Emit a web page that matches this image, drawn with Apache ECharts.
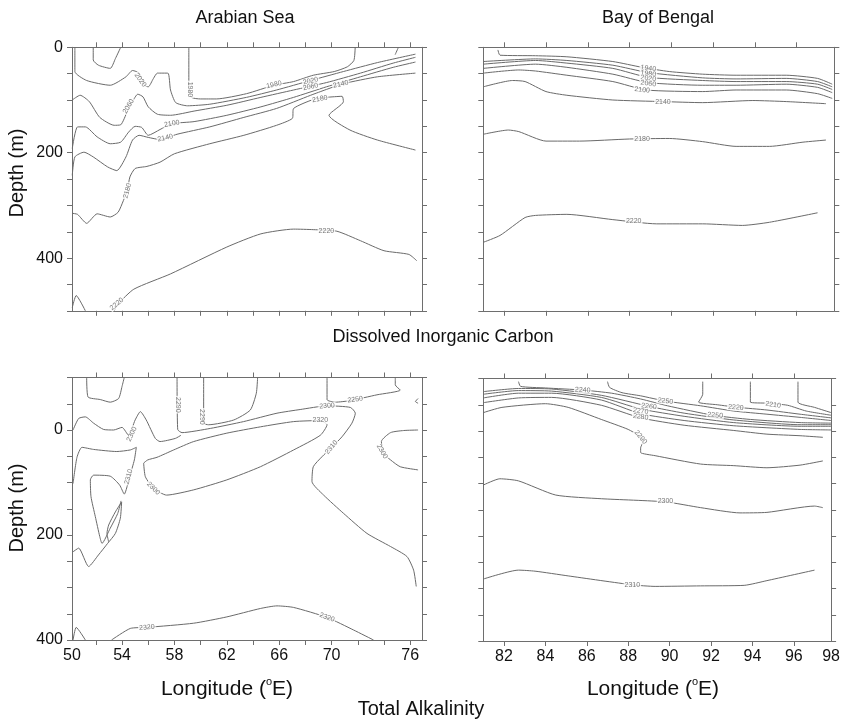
<!DOCTYPE html>
<html>
<head>
<meta charset="utf-8">
<script src="https://cdn.jsdelivr.net/npm/echarts@6/dist/echarts.min.js"></script>
<style>
  html, body { margin: 0; padding: 0; background: #fff; }
  #chart { width: 843px; height: 725px; }
</style>
</head>
<body>
<div id="chart"></div>
<script>
// ---- contour lines, points are [longitude (E), depth (m)] ----

// Arabian Sea, dissolved inorganic carbon
const dicArabTopLoop = [[51.8,0],[51.8,24],[52.2,34],[53.1,40],[53.5,21],[53.9,0]];
const dicArab1980 = [[59.1,0],[59.1,75],[59.3,95],[60.0,98],[61.2,98],[63.5,88],[65.6,72],[67.1,65],[68.6,53],[70.2,46],[71.2,37],[71.7,25],[71.8,0]];
const dicArabCornerTop = [[75.1,0],[74.85,14]];
const dicArab2020 = [[50.4,0],[50.4,46],[51.3,63],[53.1,72],[54.3,56],[54.8,44],[55.3,49],[55.7,72],[56.0,75],[56.4,59],[56.7,49],[57.5,49],[57.7,81],[58.1,105],[59.0,111],[60.7,108],[63.5,95],[65.8,81],[68.4,63],[70.9,46],[73.5,29],[76.4,13]];
const dicArab2060 = [[50.2,100],[50.8,91],[51.5,103],[52.3,133],[53.4,148],[53.9,147],[54.4,122],[54.8,103],[55.2,89],[55.6,94],[56.0,113],[56.7,127],[57.7,129],[59.5,121],[62.0,110],[64.6,95],[67.1,81],[69.6,67],[72.2,49],[74.7,30],[76.4,19]];
const dicArab2100 = [[50.2,192],[50.6,151],[51.2,151],[52.1,170],[53.1,183],[53.9,180],[54.5,161],[55.0,150],[55.5,152],[56.0,167],[56.9,156],[57.8,145],[59.5,141],[62.0,129],[64.6,113],[67.1,95],[69.6,75],[72.2,56],[74.7,38],[76.4,28]];
const dicArab2140 = [[50.2,243],[50.4,208],[51.1,199],[51.8,208],[52.9,227],[53.6,234],[54.3,208],[54.8,176],[55.3,167],[56.0,171],[56.9,175],[58.2,165],[60.7,151],[63.3,133],[65.8,116],[68.4,91],[69.6,80],[70.9,69],[73.5,56],[76.4,49]];
const dicArab2180 = [[50.2,315],[50.6,317],[51.3,334],[52.1,316],[53.1,322],[53.7,313],[54.1,291],[54.4,272],[54.6,246],[55.0,230],[55.9,226],[56.9,218],[58.0,202],[60.7,183],[63.3,167],[65.8,148],[67.0,135],[67.1,116],[68.6,99],[69.6,95],[70.8,93],[70.9,103],[69.8,129],[71.4,157],[73.5,176],[76.4,195]];
const dicArab2220 = [[53.4,500],[53.7,487],[54.9,459],[57.7,430],[62.0,379],[64.6,354],[67.1,345],[68.6,346],[70.4,349],[72.2,367],[74.0,386],[75.9,393],[76.5,405]];
const dicArabCorner = [[50.2,494],[50.5,471],[51.2,500]];
const dicArabLabels = [[55.4,62,'2020'],[54.5,112,'2060'],[59.2,80,'1980'],[65.6,71,'1980'],[68.4,64,'2020'],[68.4,75,'2060'],[70.7,70,'2140'],[57.8,145,'2100'],[57.3,172,'2140'],[54.4,272,'2180'],[69.1,98,'2180'],[69.6,348,'2220'],[53.6,487,'2220']];
const dicArabAngles = [-55, 60, -90, 12, 12, 12, 12, 10, 12, 75, 10, 0, 40];

// Bay of Bengal, dissolved inorganic carbon
const dicBay1940 = [[81.7,5],[81.8,15],[83.5,16],[85.0,18],[87.2,27],[88.6,38],[89.9,46],[91.5,51],[93.1,53],[95.5,53],[97.0,59],[97.7,70]];
const dicBay1980 = [[81.0,27],[83.5,22],[85.0,25],[87.2,34],[88.9,48],[91.5,58],[93.1,60],[95.5,59],[97.0,65],[97.7,75]];
const dicBay2020 = [[81.0,32],[83.5,25],[85.0,30],[87.2,40],[88.9,57],[91.5,63],[93.1,65],[95.5,65],[97.0,70],[97.7,80]];
const dicBay2060 = [[81.0,40],[83.5,32],[85.0,38],[87.2,51],[88.9,67],[91.5,72],[93.1,72],[95.5,70],[97.0,76],[97.7,86]];
const dicBay2100 = [[81.0,49],[82.7,43],[83.5,45],[85.0,53],[87.2,65],[88.8,81],[91.5,84],[93.1,81],[95.5,81],[97.0,88],[97.7,97]];
const dicBay2140 = [[81.0,75],[82.4,63],[83.0,65],[84.0,84],[85.0,91],[87.2,100],[89.6,103],[91.5,105],[93.9,101],[95.5,103],[97.4,107]];
const dicBay2180 = [[81.0,165],[82.2,157],[82.7,160],[84.0,178],[85.6,178],[88.0,174],[89.9,173],[91.5,179],[93.1,188],[94.7,188],[96.3,180],[97.4,176]];
const dicBay2220 = [[81.0,370],[81.8,357],[83.0,323],[83.5,319],[85.0,317],[87.2,327],[89.3,335],[91.5,335],[93.4,338],[94.7,332],[97.0,314]];
const dicBayLabels = [[88.9,40,'1940'],[88.9,50,'1980'],[88.9,59,'2020'],[88.9,69,'2060'],[88.6,81,'2100'],[89.6,103,'2140'],[88.6,174,'2180'],[88.2,330,'2220']];
const dicBayAngles = [-8, -8, -8, -8, -6, 0, 0, 0];

// Arabian Sea, total alkalinity
const taArabTopLoop = [[51.3,-100],[51.4,-63],[52.34,-58],[53.1,-53],[53.74,-60],[54.0,-83],[54.17,-100]];
const taArabLeft = [[50.26,0],[50.69,-22],[51.2,-25],[51.83,-13],[52.6,-1],[53.36,0],[54.0,-5],[54.5,10],[55.0,-19],[55.4,-35],[55.85,-19],[56.54,16],[56.9,22],[58.07,16],[58.5,10]];
const taArabColumn = [[58.2,-100],[58.25,-1],[58.58,5],[60.74,-3],[63.28,-16],[65.83,-32],[67.6,-39],[69.65,-46],[71.43,-43],[71.81,-32],[71.55,-13],[70.79,13],[70.0,33],[69.26,51],[68.6,70],[68.5,98],[69.39,124],[70.92,159],[72.7,197],[74.5,222],[75.75,241],[76.26,267],[76.46,298]];
const taArabU = [[60.23,-100],[60.23,-13],[60.61,-10],[62.52,-19],[63.79,-38],[64.25,-70],[64.35,-100]];
const taArabEast = [[69.65,-100],[69.65,-58],[70.28,-53],[71.43,-56],[73.46,-67],[75.24,-76],[74.86,-86],[74.86,-100]];
const taArabTongue = [[55.65,63],[55.78,89],[56.4,111],[57.4,124],[59.47,114],[62.0,95],[64.56,70],[67.1,38],[69.14,10],[69.65,-10],[69.14,-18],[67.1,-16],[64.56,-6],[62.0,6],[59.47,22],[57.94,38],[56.67,52],[55.96,57],[55.65,63]];
const taArabWest = [[50.26,102],[50.56,52],[50.94,33],[51.83,37],[53.6,41],[54.63,38],[55.09,33],[54.94,57],[54.58,89],[54.17,122],[53.82,105],[53.1,88],[51.83,86],[51.58,95],[51.63,127],[51.96,165],[52.3,203],[52.47,216],[53.1,187],[53.67,159],[53.92,135]];
const taArabInner = [[50.26,232],[50.69,225],[51.45,260],[52.2,238],[52.9,216],[53.49,197],[53.87,168],[53.97,137],[53.49,156],[52.98,181],[52.85,197],[52.98,213]];
const taArab2320 = [[53.2,400],[54.63,378],[55.9,376],[59.47,368],[62.0,356],[64.56,340],[65.83,335],[67.1,338],[69.65,357],[71.68,381],[73.2,400]];
const taArabCorner = [[50.26,400],[50.5,376],[51.2,400]];
const taArabRight = [[76.6,0],[75.5,1],[74.5,5],[73.8,22],[73.95,44],[74.5,57],[75.24,70],[76.6,76]];
const taArabHook = [[76.6,-60],[76.4,-54],[76.6,-51]];
const taArabLabels = [[58.3,-48,'2290'],[60.1,-25,'2290'],[71.8,-58,'2250'],[69.65,-46,'2300'],[69.14,-18,'2320'],[54.75,8,'2300'],[54.5,89,'2310'],[56.4,111,'2300'],[70.0,33,'2310'],[73.85,41,'2300'],[55.9,376,'2320'],[69.65,357,'2320']];
const taArabAngles = [-90, -90, 8, 5, 0, 65, 75, -45, 50, -60, 5, -20];

// Bay of Bengal, total alkalinity
const taBay2210a = [[96.2,-94],[96.2,-55],[97.0,-45],[97.8,-35]];
const taBay2210b = [[93.9,-94],[93.9,-55],[94.7,-53],[95.7,-49],[96.6,-38],[97.8,-30]];
const taBay2220 = [[91.6,-94],[91.6,-70],[91.4,-55],[92.3,-50],[93.3,-45],[94.7,-40],[96.3,-32],[97.8,-25]];
const taBay2250 = [[87.0,-94],[87.1,-83],[87.7,-73],[88.6,-67],[89.8,-57],[91.5,-48],[93.1,-38],[94.7,-32],[96.3,-26],[97.8,-20]];
const taBay2240 = [[82.7,-94],[82.8,-85],[84.0,-82],[85.8,-78],[87.2,-72],[88.6,-61],[89.9,-48],[92.1,-30],[93.9,-22],[96.3,-16],[97.8,-15]];
const taBay2260 = [[81.0,-75],[82.7,-81],[84.3,-80],[86.7,-68],[89.0,-47],[90.7,-34],[93.1,-21],[96.3,-12],[97.8,-12]];
const taBay2270 = [[81.0,-70],[82.7,-77],[84.3,-76],[86.7,-64],[88.6,-42],[90.7,-28],[93.1,-16],[96.3,-9],[97.8,-9]];
const taBay2275 = [[81.0,-63],[82.7,-72],[84.3,-72],[86.7,-59],[88.6,-33],[90.7,-20],[93.1,-10],[96.3,-3],[97.8,-2]];
const taBay2280 = [[81.0,-54],[82.7,-63],[84.3,-64],[86.7,-49],[88.6,-25],[90.7,-11],[93.1,-1],[94.7,6],[96.3,9],[97.4,12]];
const taBay2290 = [[81.0,-35],[81.9,-45],[84.0,-52],[85.1,-45],[86.7,-22],[88.0,-3],[88.5,9],[88.7,22],[88.6,32],[88.6,41],[89.3,47],[91.5,63],[93.1,66],[94.7,70],[96.3,65],[97.4,57]];
const taBay2300 = [[81.0,103],[81.8,91],[82.7,95],[84.5,122],[86.7,129],[89.8,135],[91.5,146],[93.4,156],[94.7,155],[97.0,143],[97.4,146]];
const taBay2310 = [[81.0,282],[82.7,265],[83.5,267],[85.1,276],[88.2,293],[89.3,296],[91.5,295],[93.6,294],[94.7,285],[97.0,265]];
const taBayLabels = [[85.8,-78,'2240'],[89.8,-57,'2250'],[89.0,-47,'2260'],[88.6,-38,'2270'],[88.6,-27,'2280'],[93.2,-45,'2220'],[95.0,-50,'2210'],[92.2,-30,'2250'],[88.6,12,'2290'],[89.8,134,'2300'],[88.2,293,'2310']];
const taBayAngles = [-3, -8, -8, -8, -8, -5, -8, -5, -50, 0, 0];

// axis ticks and labels
const arabTicks = [52,54,56,58,60,62,64,66,68,70,72,74,76];
const arabTickLabels = [50.18,54,58,62,66,70,76];
const bayTicks = [82,84,86,88,90,92,94,96];
const bayTickLabels = [82,84,86,88,90,92,94,96,97.8];
const dicDepthTicks = [0,50,100,150,200,250,300,350,400,450,500];
const taDepthTicks = [-100,-50,0,50,100,150,200,250,300,350,400];
const depthTickLabels = [0,200,400];

const FONT = '"Liberation Sans", Arial, Helvetica, sans-serif';
const AXIS_COLOR = '#6e6e6e';
const LINE_COLOR = '#6a6a6a';

const panels = [
  { grid: { left: 72, top: 47.3, width: 350, height: 263.5 }, xr: [50.18, 76.9], yr: [0, 500],
    xt: arabTicks, xl: null, yt: dicDepthTicks, yl: depthTickLabels,
    lines: [dicArabTopLoop, dicArab1980, dicArabCornerTop, dicArab2020, dicArab2060, dicArab2100, dicArab2140, dicArab2180, dicArab2220, dicArabCorner],
    labels: dicArabLabels, angles: dicArabAngles },
  { grid: { left: 483.3, top: 47.3, width: 351, height: 263.5 }, xr: [81, 97.8], yr: [0, 500],
    xt: bayTicks, xl: null, yt: dicDepthTicks, yl: null,
    lines: [dicBay1940, dicBay1980, dicBay2020, dicBay2060, dicBay2100, dicBay2140, dicBay2180, dicBay2220],
    labels: dicBayLabels, angles: dicBayAngles },
  { grid: { left: 72, top: 377.5, width: 350, height: 262.5 }, xr: [50.18, 76.9], yr: [-100, 400],
    xt: arabTicks, xl: arabTickLabels, yt: taDepthTicks, yl: depthTickLabels,
    lines: [taArabTopLoop, taArabLeft, taArabColumn, taArabU, taArabEast, taArabTongue, taArabWest, taArabInner, taArab2320, taArabCorner, taArabRight, taArabHook],
    labels: taArabLabels, angles: taArabAngles },
  { grid: { left: 483.3, top: 378.5, width: 351, height: 262.5 }, xr: [81, 97.8], yr: [-100, 400],
    xt: bayTicks, xl: bayTickLabels, yt: taDepthTicks, yl: null,
    lines: [taBay2210a, taBay2210b, taBay2220, taBay2250, taBay2240, taBay2260, taBay2270, taBay2275, taBay2280, taBay2290, taBay2300, taBay2310],
    labels: taBayLabels, angles: taBayAngles }
];

const grid = [];
const xAxis = [];
const yAxis = [];
const series = [];

panels.forEach((p, g) => {
  grid.push(p.grid);

  let axisLine = { show: true, onZero: false, lineStyle: { color: AXIS_COLOR, width: 1 } };
  let tickLabel = (values, margin) => values ? {
    show: true, customValues: values, margin: margin, fontSize: 16, color: '#111', fontFamily: FONT,
    formatter: v => String(Math.round(v))
  } : { show: false };

  // bottom and top x axes
  ['bottom', 'top'].forEach((pos, k) => {
    xAxis.push({
      type: 'value', gridIndex: g, position: pos, min: p.xr[0], max: p.xr[1],
      axisLine: axisLine,
      axisTick: { show: true, length: 5, customValues: p.xt, lineStyle: { color: AXIS_COLOR } },
      axisLabel: k === 0 ? tickLabel(p.xl, 8) : { show: false },
      splitLine: { show: false }
    });
  });

  // left and right depth axes
  ['left', 'right'].forEach((pos, k) => {
    yAxis.push({
      type: 'value', gridIndex: g, position: pos, inverse: true, min: p.yr[0], max: p.yr[1],
      axisLine: axisLine,
      axisTick: { show: true, length: 5, customValues: p.yt, lineStyle: { color: AXIS_COLOR } },
      axisLabel: k === 0 ? tickLabel(p.yl, 9) : { show: false },
      splitLine: { show: false }
    });
  });

  p.lines.forEach(line => {
    series.push({
      type: 'line', xAxisIndex: 2 * g, yAxisIndex: 2 * g, data: line,
      symbol: 'none', smooth: 0.2, silent: true, z: 2,
      lineStyle: { color: LINE_COLOR, width: 1 }
    });
  });

  series.push({
    type: 'scatter', xAxisIndex: 2 * g, yAxisIndex: 2 * g, symbolSize: 0, silent: true, z: 5,
    data: p.labels.map((l, i) => ({
      value: [l[0], l[1]],
      label: { formatter: l[2], rotate: p.angles[i] }
    })),
    label: {
      show: true, position: 'inside', fontSize: 7, color: '#555', fontFamily: FONT,
      backgroundColor: '#fff', padding: [0, 1]
    }
  });
});

// titles and axis names
const txt = (text, x, y, size, rot) => ({
  type: 'text', x: x, y: y, rotation: rot || 0,
  style: { text: text, font: size + 'px ' + FONT, fill: '#111', align: 'center', verticalAlign: 'middle' }
});
const lonName = (x, y) => ({
  type: 'text', x: x, y: y,
  style: {
    text: '{a|Longitude (}{s|o}{a|E)}', align: 'center', verticalAlign: 'middle',
    rich: {
      a: { fontSize: 21, fontFamily: FONT, fill: '#111', lineHeight: 25 },
      s: { fontSize: 11, fontFamily: FONT, fill: '#111', lineHeight: 25, verticalAlign: 'top' }
    }
  }
});

const graphic = [
  txt('Arabian Sea', 245, 18, 18),
  txt('Bay of Bengal', 658, 18, 18),
  txt('Dissolved Inorganic Carbon', 443, 337, 18),
  txt('Total Alkalinity', 421, 709, 20),
  txt('Depth (m)', 17, 173, 20, Math.PI / 2),
  txt('Depth (m)', 17, 508, 20, Math.PI / 2),
  lonName(227, 689),
  lonName(653, 689)
];

const chart = echarts.init(document.getElementById('chart'), null, { renderer: 'canvas' });
chart.setOption({
  animation: false,
  backgroundColor: '#fff',
  textStyle: { fontFamily: FONT },
  grid: grid,
  xAxis: xAxis,
  yAxis: yAxis,
  series: series,
  graphic: graphic
});
</script>
</body>
</html>
